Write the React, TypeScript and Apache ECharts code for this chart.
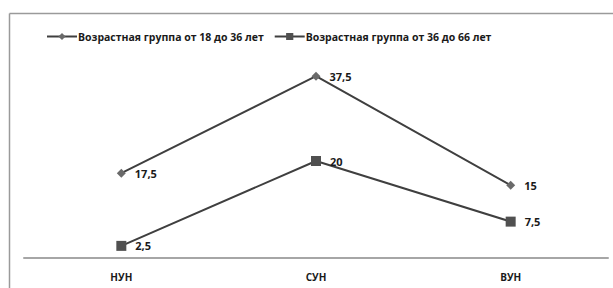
import React, { useEffect, useRef } from "react";
import * as echarts from "echarts";

const categories = ["НУН", "СУН", "ВУН"];
const seriesNames = [
  "Возрастная группа от 18 до 36 лет",
  "Возрастная группа от 36 до 66 лет",
];
const group1 = [17.5, 37.5, 15];
const group2 = [2.5, 20, 7.5];

const fmt = (v: number) => String(v).replace(".", ",");

export default function App() {
  const ref = useRef<HTMLDivElement>(null);
  useEffect(() => {
    document.body.style.margin = "0";
    document.body.style.overflow = "hidden";
    if (!ref.current) return;
    const chart = echarts.init(ref.current, undefined, { renderer: "svg" });
    const font = "'Open Sans', 'Liberation Sans', sans-serif";
    const label = {
      show: true,
      position: "right" as const,
      distance: 9,
      color: "#1a1a1a",
      fontFamily: font,
      fontWeight: "bold" as const,
      fontSize: 11,
      formatter: (p: any) => fmt(p.value),
    };
    chart.setOption({
      animation: false,
      backgroundColor: "#ffffff",
      graphic: [
        {
          type: "line",
          shape: { x1: 9.5, y1: 13.5, x2: 613, y2: 13.5 },
          style: { stroke: "#9a9a9a", lineWidth: 1.5 },
          silent: true,
        },
        {
          type: "line",
          shape: { x1: 9.5, y1: 13.5, x2: 9.5, y2: 288 },
          style: { stroke: "#9a9a9a", lineWidth: 1.5 },
          silent: true,
        },
      ],
      legend: {
        top: 26,
        left: 41,
        itemWidth: 30,
        itemHeight: 9,
        itemGap: 10,
        textStyle: {
          fontFamily: font,
          fontSize: 10.5,
          fontWeight: "bold",
          color: "#1a1a1a",
          padding: [0, 0, 0, -4],
        },
        data: seriesNames,
      },
      grid: { left: 24, right: 5, top: 64, bottom: 30 },
      xAxis: {
        type: "category",
        data: categories,
        boundaryGap: true,
        axisLine: { lineStyle: { color: "#a6a6a6", width: 2 } },
        axisTick: { show: false },
        axisLabel: {
          color: "#1a1a1a",
          fontFamily: font,
          fontWeight: "bold",
          fontSize: 10,
          margin: 14,
        },
      },
      yAxis: {
        type: "value",
        min: 0,
        max: 40,
        interval: 10,
        show: false,
        splitLine: { show: false },
      },
      series: [
        {
          name: seriesNames[0],
          type: "line",
          data: group1,
          symbol: "diamond",
          symbolSize: 9,
          lineStyle: { color: "#3f3f3f", width: 2 },
          itemStyle: { color: "#6a6a6a" },
          label,
        },
        {
          name: seriesNames[1],
          type: "line",
          data: group2,
          symbol: "rect",
          symbolSize: 10,
          lineStyle: { color: "#3f3f3f", width: 2 },
          itemStyle: { color: "#505050" },
          label,
        },
      ],
    });
    return () => chart.dispose();
  }, []);
  return (
    <div
      ref={ref}
      style={{ position: "fixed", left: 0, top: 0, width: 613, height: 288 }}
    />
  );
}
